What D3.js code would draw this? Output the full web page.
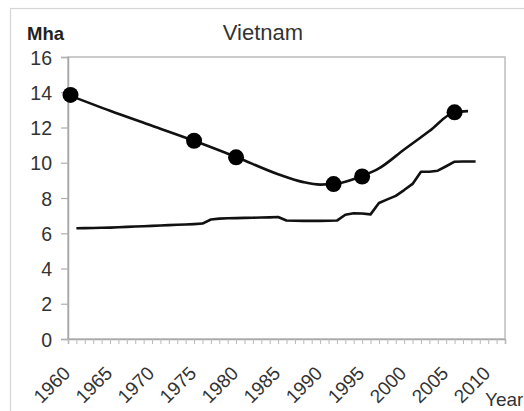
<!DOCTYPE html>
<html>
<head>
<meta charset="utf-8">
<script src="https://cdn.jsdelivr.net/npm/d3@7"></script>
<style>
  html, body { margin: 0; padding: 0; background: #fff; }
  svg { display: block; font-family: "Liberation Sans", Arial, sans-serif; }
</style>
</head>
<body>
<svg id="chart" width="524" height="411"></svg>
<script>
// Rice area in Vietnam (million hectares)
const title = "Vietnam";
const yUnit = "Mha";
const xLabel = "Year";
const xTickYears = [1960, 1965, 1970, 1975, 1980, 1985, 1990, 1995, 2000, 2005, 2010];
const yTickValues = [0, 2, 4, 6, 8, 10, 12, 14, 16];

// Smoothed upper curve
const upperYears  = [1960, 1965, 1970, 1975, 1980, 1985, 1988, 1990, 1992, 1995, 1997, 2000, 2003, 2006, 2007.6];
const upperValues = [13.85, 12.95, 12.1, 11.25, 10.33, 9.35, 8.9, 8.76, 8.82, 9.25, 9.68, 10.75, 11.8, 12.86, 12.93];

// Observed points on the upper curve
const pointYears  = [1960.3, 1975, 1980, 1991.6, 1995, 2006];
const pointValues = [13.85, 11.25, 10.31, 8.79, 9.22, 12.86];

// Yearly lower series
const lowerYears = [1961, 1962, 1963, 1964, 1965, 1966, 1967, 1968, 1969, 1970,
                    1971, 1972, 1973, 1974, 1975, 1976, 1977, 1978, 1979, 1980,
                    1981, 1982, 1983, 1984, 1985, 1986, 1987, 1988, 1989, 1990,
                    1991, 1992, 1993, 1994, 1995, 1996, 1997, 1998, 1999, 2000,
                    2001, 2002, 2003, 2004, 2005, 2006, 2007, 2008.5];
const lowerValues = [6.28, 6.29, 6.30, 6.31, 6.32, 6.34, 6.36, 6.38, 6.40, 6.42,
                     6.44, 6.46, 6.48, 6.50, 6.52, 6.55, 6.78, 6.83, 6.85, 6.86,
                     6.87, 6.88, 6.89, 6.90, 6.92, 6.72, 6.71, 6.70, 6.70, 6.70,
                     6.71, 6.72, 7.05, 7.13, 7.12, 7.07, 7.72, 7.92, 8.12, 8.45,
                     8.80, 9.49, 9.49, 9.55, 9.80, 10.06, 10.07, 10.07];

const svg = d3.select("#chart");
const plotLeft = 68, plotRight = 505, plotTop = 57, plotBottom = 339;

const x = d3.scaleLinear().domain([1960, 2012]).range([plotLeft, plotRight]);
const y = d3.scaleLinear().domain([0, 16]).range([plotBottom, plotTop]);

// Outer frame
svg.append("rect")
  .attr("x", 10.5).attr("y", 8.5)
  .attr("width", 530).attr("height", 420)
  .attr("fill", "none").attr("stroke", "#d6d6d6").attr("stroke-width", 1.2);

// Plot box
svg.append("rect")
  .attr("x", plotLeft).attr("y", plotTop)
  .attr("width", plotRight - plotLeft).attr("height", plotBottom - plotTop)
  .attr("fill", "none").attr("stroke", "#bcbcbc").attr("stroke-width", 1.5);

// Y axis
const yAxis = svg.append("g")
  .attr("transform", `translate(${plotLeft},0)`)
  .call(d3.axisLeft(y).tickValues(yTickValues).tickSize(7).tickPadding(9).tickFormat(d3.format("d")));
yAxis.select(".domain").attr("stroke", "#a8a8a8").attr("stroke-width", 1.5);
yAxis.selectAll(".tick line").attr("stroke", "#b0b0b0").attr("stroke-width", 1.2);
yAxis.selectAll(".tick text")
  .attr("fill", "#333").style("font-size", "19.5px")
  .attr("dy", "0.36em");

// X axis: yearly minor ticks
const minorYears = d3.range(1960, 2013);
const xAxis = svg.append("g")
  .attr("transform", `translate(0,${plotBottom})`)
  .call(d3.axisBottom(x).tickValues(minorYears).tickSize(5).tickFormat(""));
xAxis.select(".domain").attr("stroke", "#a8a8a8").attr("stroke-width", 1.5);
xAxis.selectAll(".tick line").attr("stroke", "#b8b8b8").attr("stroke-width", 1);

// Rotated year labels
svg.append("g").selectAll("text")
  .data(xTickYears)
  .join("text")
  .attr("transform", d => `translate(${x(d) - 6},${plotBottom + 26}) rotate(-45)`)
  .attr("text-anchor", "end")
  .attr("dy", "0.7em")
  .attr("fill", "#333")
  .style("font-size", "19px")
  .text(d => d);

// Axis title and chart title
svg.append("text")
  .attr("x", 485).attr("y", 406)
  .attr("fill", "#333").style("font-size", "19px")
  .text(xLabel);

svg.append("text")
  .attr("x", 27).attr("y", 40)
  .attr("fill", "#222").style("font-size", "18.5px").style("font-weight", "bold")
  .text(yUnit);

svg.append("text")
  .attr("x", 263).attr("y", 40)
  .attr("text-anchor", "middle")
  .attr("fill", "#333").style("font-size", "22px")
  .text(title);

// Lines
const upper = upperYears.map((d, i) => [d, upperValues[i]]);
const lower = lowerYears.map((d, i) => [d, lowerValues[i]]);

svg.append("path")
  .datum(upper)
  .attr("fill", "none").attr("stroke", "#111").attr("stroke-width", 2.6)
  .attr("stroke-linejoin", "round")
  .attr("d", d3.line().x(d => x(d[0])).y(d => y(d[1])).curve(d3.curveMonotoneX));

svg.append("path")
  .datum(lower)
  .attr("fill", "none").attr("stroke", "#111").attr("stroke-width", 2.6)
  .attr("stroke-linejoin", "round")
  .attr("d", d3.line().x(d => x(d[0])).y(d => y(d[1])));

// Observation markers
svg.append("g").selectAll("circle")
  .data(pointYears.map((d, i) => [d, pointValues[i]]))
  .join("circle")
  .attr("cx", d => x(d[0])).attr("cy", d => y(d[1]))
  .attr("r", 8).attr("fill", "#000");
</script>
</body>
</html>
